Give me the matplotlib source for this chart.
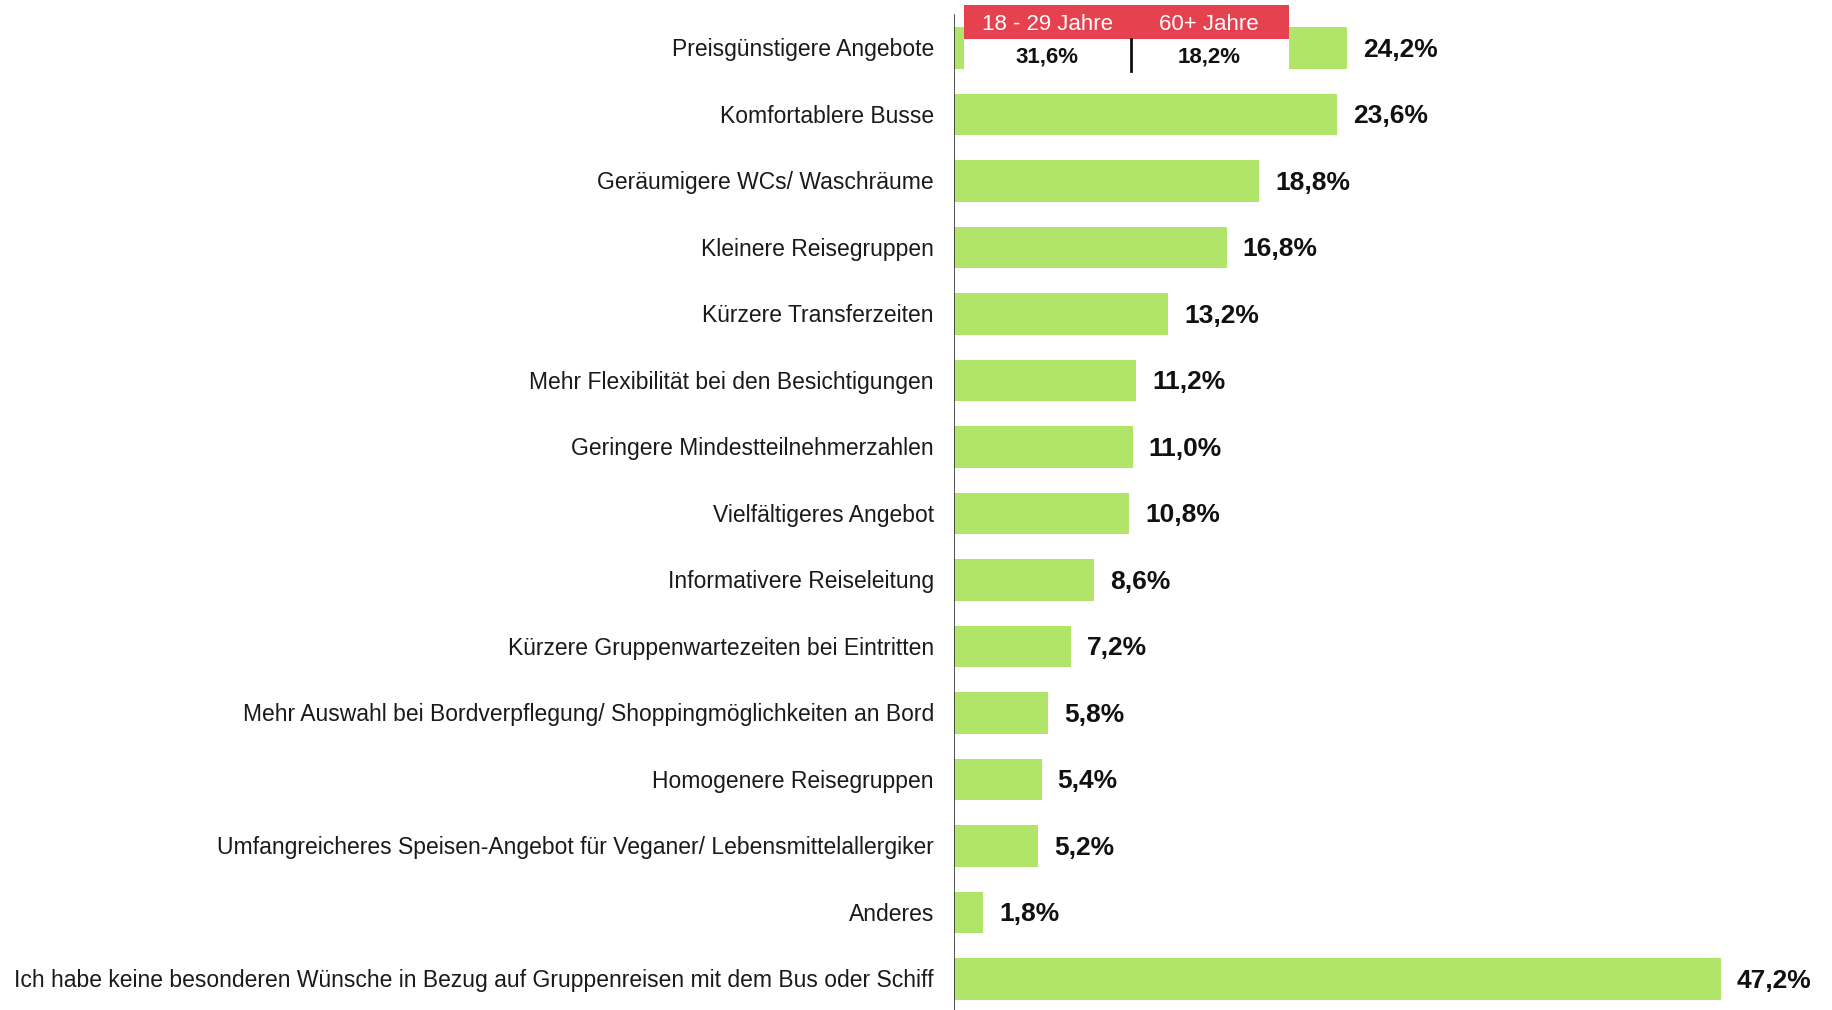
import matplotlib
matplotlib.use("Agg")
import matplotlib.pyplot as plt
from matplotlib.patches import Rectangle

categories = [
    "Preisgünstigere Angebote",
    "Komfortablere Busse",
    "Geräumigere WCs/ Waschräume",
    "Kleinere Reisegruppen",
    "Kürzere Transferzeiten",
    "Mehr Flexibilität bei den Besichtigungen",
    "Geringere Mindestteilnehmerzahlen",
    "Vielfältigeres Angebot",
    "Informativere Reiseleitung",
    "Kürzere Gruppenwartezeiten bei Eintritten",
    "Mehr Auswahl bei Bordverpflegung/ Shoppingmöglichkeiten an Bord",
    "Homogenere Reisegruppen",
    "Umfangreicheres Speisen-Angebot für Veganer/ Lebensmittelallergiker",
    "Anderes",
    "Ich habe keine besonderen Wünsche in Bezug auf Gruppenreisen mit dem Bus oder Schiff",
]
values = [24.2, 23.6, 18.8, 16.8, 13.2, 11.2, 11.0, 10.8, 8.6, 7.2, 5.8, 5.4, 5.2, 1.8, 47.2]
value_labels = ["24,2%", "23,6%", "18,8%", "16,8%", "13,2%", "11,2%", "11,0%", "10,8%",
                "8,6%", "7,2%", "5,8%", "5,4%", "5,2%", "1,8%", "47,2%"]
inset_groups = ["18 - 29 Jahre", "60+ Jahre"]
inset_values = [31.6, 18.2]
inset_labels = ["31,6%", "18,2%"]

GREEN = "#B1E56A"
RED = "#E5414F"
FONT = "Liberation Sans"

W, H = 1832, 1010
fig = plt.figure(figsize=(W / 100, H / 100), dpi=100)
ax_left = 954 / W
ax = fig.add_axes([ax_left, 0, 1 - ax_left, 1])

px_per_unit = 16.24
row = 66.5
top_center = 48
ax.set_xlim(0, (W - 954) / px_per_unit)
ax.set_ylim((H - top_center) / row, -top_center / row)

ypos = list(range(len(categories)))
ax.barh(ypos, values, height=0.62, color=GREEN, zorder=2)
for y, v, lab in zip(ypos, values, value_labels):
    ax.text(v + 16 / px_per_unit, y + 0.03, lab, va="center", ha="left",
            fontsize=19, fontweight="bold", family=FONT, color="#111111")
for y, c in zip(ypos, categories):
    ax.text(-20 / px_per_unit, y + 0.03, c, va="center", ha="right", fontsize=16.5,
            family=FONT, color="#1a1a1a", clip_on=False)

for s in ax.spines.values():
    s.set_visible(False)
ax.set_xticks([])
ax.set_yticks([])
ax.axvline(0, ymin=0, ymax=1 - 15 / H, color="#333333", lw=1.2, zorder=3)

# inset box (figure pixel coordinates)
def fx(x):
    return x / W

def fy(y):
    return 1 - y / H

x0, x1, xm = 964, 1289, 1131
fig.patches.append(Rectangle((fx(x0), fy(39)), fx(x1) - fx(x0), fy(5) - fy(39),
                             transform=fig.transFigure, facecolor=RED, edgecolor="none", zorder=5))
fig.patches.append(Rectangle((fx(x0), fy(72)), fx(x1) - fx(x0), fy(39) - fy(72),
                             transform=fig.transFigure, facecolor="white", edgecolor="none", zorder=5))
fig.add_artist(plt.Line2D([fx(xm), fx(xm)], [fy(39), fy(71)], transform=fig.transFigure,
                          color="#111111", lw=2, zorder=6))
centers = [1047, 1209]
for cx, g, lab in zip(centers, inset_groups, inset_labels):
    fig.text(fx(cx), fy(24), g, ha="center", va="center", fontsize=16,
             family=FONT, color="white", zorder=7)
    fig.text(fx(cx), fy(57), lab, ha="center", va="center", fontsize=16,
             fontweight="bold", family=FONT, color="#111111", zorder=7)

fig.savefig("out.png", dpi=100)
